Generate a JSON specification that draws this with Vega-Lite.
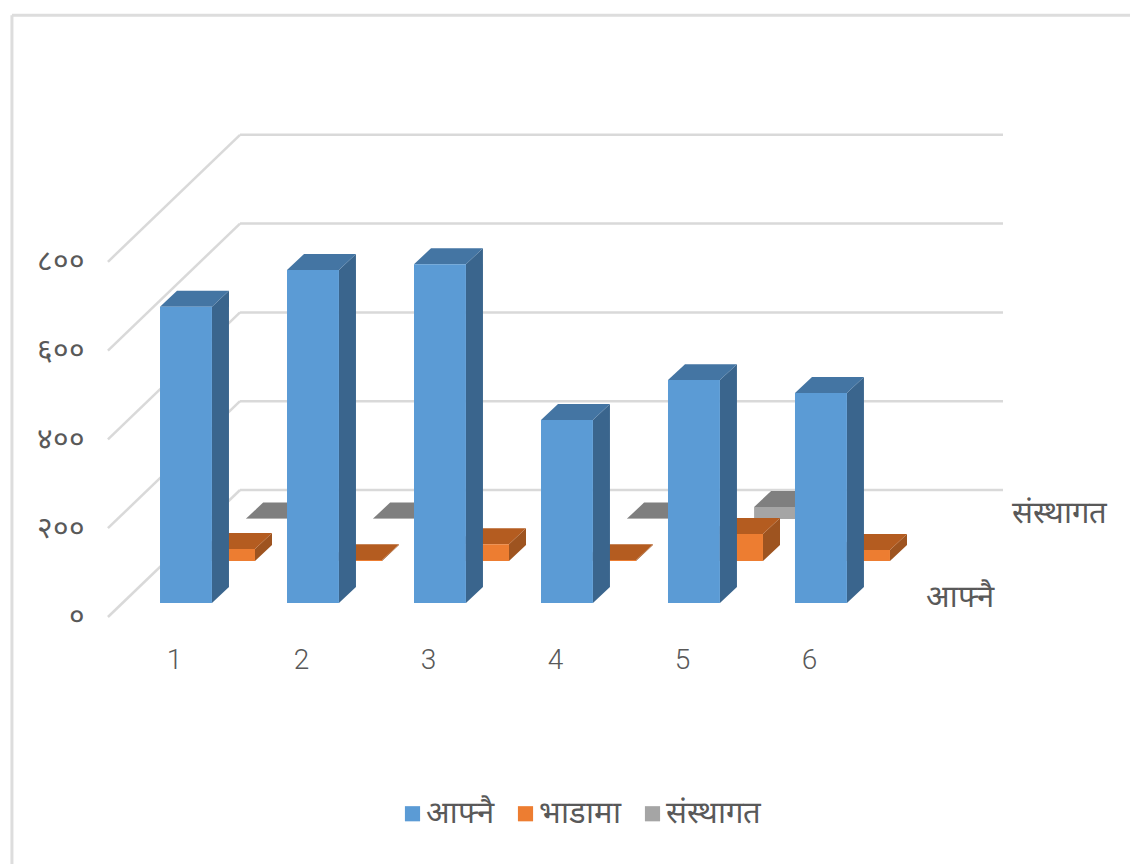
{
"$schema":"https://vega.github.io/schema/vega-lite/v6.json",
"width":1130,"height":864,"padding":0,"autosize":{"type":"none"},"background":"white",
"config":{"view":{"stroke":null},"font":"Roboto"},
"datasets":{
"bars":[
{"cat":1,"series":"आफ्नै","value":667},{"cat":2,"series":"आफ्नै","value":750},{"cat":3,"series":"आफ्नै","value":763},{"cat":4,"series":"आफ्नै","value":412},{"cat":5,"series":"आफ्नै","value":502},{"cat":6,"series":"आफ्नै","value":473},
{"cat":1,"series":"भाडामा","value":27},{"cat":2,"series":"भाडामा","value":2},{"cat":3,"series":"भाडामा","value":38},{"cat":4,"series":"भाडामा","value":2},{"cat":5,"series":"भाडामा","value":61},{"cat":6,"series":"भाडामा","value":25},
{"cat":1,"series":"संस्थागत","value":1},{"cat":2,"series":"संस्थागत","value":1},{"cat":4,"series":"संस्थागत","value":1},{"cat":5,"series":"संस्थागत","value":27}
],
"ticks":[{"tick":0},{"tick":200},{"tick":400},{"tick":600},{"tick":800}],
"depthLabels":[{"name":"आफ्नै","depth":0},{"name":"संस्थागत","depth":2}],
"frame":[{"a":-0.276,"b":1355,"c":8.6,"d":-560}]
},
"layer":[
{"data":{"name":"frame"},"mark":{"type":"rule","color":"#DDDDDD","strokeWidth":3},
 "encoding":{"x":{"field":"a","type":"quantitative","scale":{"domain":[-0.37,8.528],"nice":false,"zero":false},
   "axis":{"orient":"bottom","offset":-218,"values":[1,2,3,4,5,6],"format":"d","domain":false,"ticks":false,"grid":false,"title":null,"labelPadding":0,"labelFontSize":28,"labelColor":"#595959","labelBaseline":"top","labelFont":"Roboto","labelFontWeight":300}},
  "y":{"field":"b","type":"quantitative","scale":{"domain":[1389.6,-556.3],"nice":false,"zero":false,"reverse":true},
   "axis":{"orient":"left","offset":-92,"values":[0,200,400,600,800],"domain":false,"ticks":false,"grid":false,"title":null,"labelPadding":8,"labelFontSize":30,"labelColor":"#595959","labelBaseline":"middle","labelFont":"Roboto","labelExpr":"{'0':'०','200':'२००','400':'४००','600':'६००','800':'८००'}[datum.label]"}},
  "y2":{"field":"d"}}},
{"data":{"name":"frame"},"mark":{"type":"rule","color":"#DDDDDD","strokeWidth":3},
 "encoding":{"x":{"field":"a","type":"quantitative","scale":{"domain":[-0.37,8.528],"nice":false,"zero":false},"title":null},"x2":{"field":"c"},
  "y":{"field":"b","type":"quantitative","scale":{"domain":[1389.6,-556.3],"nice":false,"zero":false,"reverse":true},"title":null}}},
{"data":{"name":"ticks"},"transform":[{"calculate":"0.48","as":"x0"},{"calculate":"1.52","as":"x1"},{"calculate":"datum.tick+286","as":"yb"}],
 "mark":{"type":"rule","color":"#D9D9D9","strokeWidth":2.5},
 "encoding":{"x":{"field":"x0","type":"quantitative","scale":{"domain":[-0.37,8.528],"nice":false,"zero":false},"title":null},"x2":{"field":"x1"},
  "y":{"field":"tick","type":"quantitative","scale":{"domain":[1389.6,-556.3],"nice":false,"zero":false,"reverse":true},"title":null},"y2":{"field":"yb"}}},
{"data":{"name":"ticks"},"transform":[{"calculate":"1.52","as":"x0"},{"calculate":"7.528","as":"x1"},{"calculate":"datum.tick+286","as":"yb"}],
 "mark":{"type":"rule","color":"#D9D9D9","strokeWidth":2.5},
 "encoding":{"x":{"field":"x0","type":"quantitative","scale":{"domain":[-0.37,8.528],"nice":false,"zero":false},"title":null},"x2":{"field":"x1"},
  "y":{"field":"yb","type":"quantitative","scale":{"domain":[1389.6,-556.3],"nice":false,"zero":false,"reverse":true},"title":null}}},

{"data":{"name":"bars"},"transform":[
 {"calculate":"indexof(['आफ्नै','भाडामा','संस्थागत'],datum.series)","as":"s"},
 {"filter":"datum.s==2"},
 {"calculate":"datum.cat-0.11+0.339*datum.s","as":"xl"},{"calculate":"datum.xl+0.409","as":"xr"},{"calculate":"31.5+94.6*datum.s","as":"b"},{"calculate":"datum.b+datum.value","as":"t"},
 {"calculate":"0","as":"p0"},{"calculate":"1","as":"p1"},{"fold":["p0","p1"],"as":["pk","p"]},
 {"calculate":"datum.t+36*datum.p","as":"ty"},{"calculate":"datum.xl+0.134*datum.p","as":"tx1"},{"calculate":"datum.xr+0.134*datum.p","as":"tx2"}],
 "mark":{"type":"area","orient":"horizontal","color":"#7F7F7F"},
 "encoding":{"y":{"field":"ty","type":"quantitative","scale":{"domain":[1389.6,-556.3],"nice":false,"zero":false,"reverse":true},"title":null,"stack":null},
  "x":{"field":"tx1","type":"quantitative","scale":{"domain":[-0.37,8.528],"nice":false,"zero":false},"title":null,"stack":null},"x2":{"field":"tx2"},"detail":{"field":"cat"}}},
{"data":{"name":"bars"},"transform":[
 {"calculate":"indexof(['आफ्नै','भाडामा','संस्थागत'],datum.series)","as":"s"},
 {"filter":"datum.s==2"},
 {"calculate":"datum.cat-0.11+0.339*datum.s","as":"xl"},{"calculate":"datum.xl+0.409","as":"xr"},{"calculate":"31.5+94.6*datum.s","as":"b"},{"calculate":"datum.b+datum.value","as":"t"}],
 "mark":{"type":"rect"},
 "encoding":{"x":{"field":"xl","type":"quantitative","scale":{"domain":[-0.37,8.528],"nice":false,"zero":false},"title":null},"x2":{"field":"xr"},
  "y":{"field":"b","type":"quantitative","scale":{"domain":[1389.6,-556.3],"nice":false,"zero":false,"reverse":true},"title":null},"y2":{"field":"t"},
  "color":{"field":"series","type":"nominal","scale":{"domain":["आफ्नै","भाडामा","संस्थागत"],"range":["#5B9BD5","#ED7D31","#A5A5A5"]},
   "legend":{"orient":"none","legendX":397,"legendY":798,"direction":"horizontal","title":null,"symbolType":"square","symbolSize":230,"symbolStrokeWidth":0,"labelFontSize":31,"labelColor":"#595959","columnPadding":16,"labelOffset":-2}}}},

{"data":{"name":"bars"},"transform":[
 {"calculate":"indexof(['आफ्नै','भाडामा','संस्थागत'],datum.series)","as":"s"},
 {"filter":"datum.s==1"},
 {"calculate":"datum.cat-0.11+0.339*datum.s","as":"xl"},{"calculate":"datum.xl+0.409","as":"xr"},{"calculate":"31.5+94.6*datum.s","as":"b"},{"calculate":"datum.b+datum.value","as":"t"},
 {"calculate":"0","as":"p0"},{"calculate":"1","as":"p1"},{"fold":["p0","p1"],"as":["pk","p"]},
 {"calculate":"datum.xr+0.134*datum.p","as":"sx"},{"calculate":"datum.b+36*datum.p","as":"sy"},{"calculate":"datum.t+36*datum.p","as":"sy2"}],
 "mark":{"type":"area","orient":"vertical","color":"#9E5420"},
 "encoding":{"x":{"field":"sx","type":"quantitative","scale":{"domain":[-0.37,8.528],"nice":false,"zero":false},"title":null,"stack":null},
  "y":{"field":"sy","type":"quantitative","scale":{"domain":[1389.6,-556.3],"nice":false,"zero":false,"reverse":true},"title":null,"stack":null},"y2":{"field":"sy2"},"detail":{"field":"cat"}}},
{"data":{"name":"bars"},"transform":[
 {"calculate":"indexof(['आफ्नै','भाडामा','संस्थागत'],datum.series)","as":"s"},
 {"filter":"datum.s==1"},
 {"calculate":"datum.cat-0.11+0.339*datum.s","as":"xl"},{"calculate":"datum.xl+0.409","as":"xr"},{"calculate":"31.5+94.6*datum.s","as":"b"},{"calculate":"datum.b+datum.value","as":"t"},
 {"calculate":"0","as":"p0"},{"calculate":"1","as":"p1"},{"fold":["p0","p1"],"as":["pk","p"]},
 {"calculate":"datum.t+36*datum.p","as":"ty"},{"calculate":"datum.xl+0.134*datum.p","as":"tx1"},{"calculate":"datum.xr+0.134*datum.p","as":"tx2"}],
 "mark":{"type":"area","orient":"horizontal","color":"#B45C20"},
 "encoding":{"y":{"field":"ty","type":"quantitative","scale":{"domain":[1389.6,-556.3],"nice":false,"zero":false,"reverse":true},"title":null,"stack":null},
  "x":{"field":"tx1","type":"quantitative","scale":{"domain":[-0.37,8.528],"nice":false,"zero":false},"title":null,"stack":null},"x2":{"field":"tx2"},"detail":{"field":"cat"}}},
{"data":{"name":"bars"},"transform":[
 {"calculate":"indexof(['आफ्नै','भाडामा','संस्थागत'],datum.series)","as":"s"},
 {"filter":"datum.s==1"},
 {"calculate":"datum.cat-0.11+0.339*datum.s","as":"xl"},{"calculate":"datum.xl+0.409","as":"xr"},{"calculate":"31.5+94.6*datum.s","as":"b"},{"calculate":"datum.b+datum.value","as":"t"}],
 "mark":{"type":"rect"},
 "encoding":{"x":{"field":"xl","type":"quantitative","scale":{"domain":[-0.37,8.528],"nice":false,"zero":false},"title":null},"x2":{"field":"xr"},
  "y":{"field":"b","type":"quantitative","scale":{"domain":[1389.6,-556.3],"nice":false,"zero":false,"reverse":true},"title":null},"y2":{"field":"t"},
  "color":{"field":"series","type":"nominal"}}},

{"data":{"name":"bars"},"transform":[
 {"calculate":"indexof(['आफ्नै','भाडामा','संस्थागत'],datum.series)","as":"s"},
 {"filter":"datum.s==0"},
 {"calculate":"datum.cat-0.11+0.339*datum.s","as":"xl"},{"calculate":"datum.xl+0.409","as":"xr"},{"calculate":"31.5+94.6*datum.s","as":"b"},{"calculate":"datum.b+datum.value","as":"t"},
 {"calculate":"0","as":"p0"},{"calculate":"1","as":"p1"},{"fold":["p0","p1"],"as":["pk","p"]},
 {"calculate":"datum.xr+0.134*datum.p","as":"sx"},{"calculate":"datum.b+36*datum.p","as":"sy"},{"calculate":"datum.t+36*datum.p","as":"sy2"}],
 "mark":{"type":"area","orient":"vertical","color":"#3A658D"},
 "encoding":{"x":{"field":"sx","type":"quantitative","scale":{"domain":[-0.37,8.528],"nice":false,"zero":false},"title":null,"stack":null},
  "y":{"field":"sy","type":"quantitative","scale":{"domain":[1389.6,-556.3],"nice":false,"zero":false,"reverse":true},"title":null,"stack":null},"y2":{"field":"sy2"},"detail":{"field":"cat"}}},
{"data":{"name":"bars"},"transform":[
 {"calculate":"indexof(['आफ्नै','भाडामा','संस्थागत'],datum.series)","as":"s"},
 {"filter":"datum.s==0"},
 {"calculate":"datum.cat-0.11+0.339*datum.s","as":"xl"},{"calculate":"datum.xl+0.409","as":"xr"},{"calculate":"31.5+94.6*datum.s","as":"b"},{"calculate":"datum.b+datum.value","as":"t"},
 {"calculate":"0","as":"p0"},{"calculate":"1","as":"p1"},{"fold":["p0","p1"],"as":["pk","p"]},
 {"calculate":"datum.t+36*datum.p","as":"ty"},{"calculate":"datum.xl+0.134*datum.p","as":"tx1"},{"calculate":"datum.xr+0.134*datum.p","as":"tx2"}],
 "mark":{"type":"area","orient":"horizontal","color":"#4475A3"},
 "encoding":{"y":{"field":"ty","type":"quantitative","scale":{"domain":[1389.6,-556.3],"nice":false,"zero":false,"reverse":true},"title":null,"stack":null},
  "x":{"field":"tx1","type":"quantitative","scale":{"domain":[-0.37,8.528],"nice":false,"zero":false},"title":null,"stack":null},"x2":{"field":"tx2"},"detail":{"field":"cat"}}},
{"data":{"name":"bars"},"transform":[
 {"calculate":"indexof(['आफ्नै','भाडामा','संस्थागत'],datum.series)","as":"s"},
 {"filter":"datum.s==0"},
 {"calculate":"datum.cat-0.11+0.339*datum.s","as":"xl"},{"calculate":"datum.xl+0.409","as":"xr"},{"calculate":"31.5+94.6*datum.s","as":"b"},{"calculate":"datum.b+datum.value","as":"t"}],
 "mark":{"type":"rect"},
 "encoding":{"x":{"field":"xl","type":"quantitative","scale":{"domain":[-0.37,8.528],"nice":false,"zero":false},"title":null},"x2":{"field":"xr"},
  "y":{"field":"b","type":"quantitative","scale":{"domain":[1389.6,-556.3],"nice":false,"zero":false,"reverse":true},"title":null},"y2":{"field":"t"},
  "color":{"field":"series","type":"nominal"}}},

{"data":{"name":"depthLabels"},"transform":[{"calculate":"6.92+0.339*datum.depth","as":"lx"},{"calculate":"42.5+94.6*datum.depth","as":"ly"}],
 "mark":{"type":"text","align":"left","baseline":"middle","fontSize":31,"color":"#595959"},
 "encoding":{"x":{"field":"lx","type":"quantitative","scale":{"domain":[-0.37,8.528],"nice":false,"zero":false},"title":null},
  "y":{"field":"ly","type":"quantitative","scale":{"domain":[1389.6,-556.3],"nice":false,"zero":false,"reverse":true},"title":null},
  "text":{"field":"name"}}}
]
}
